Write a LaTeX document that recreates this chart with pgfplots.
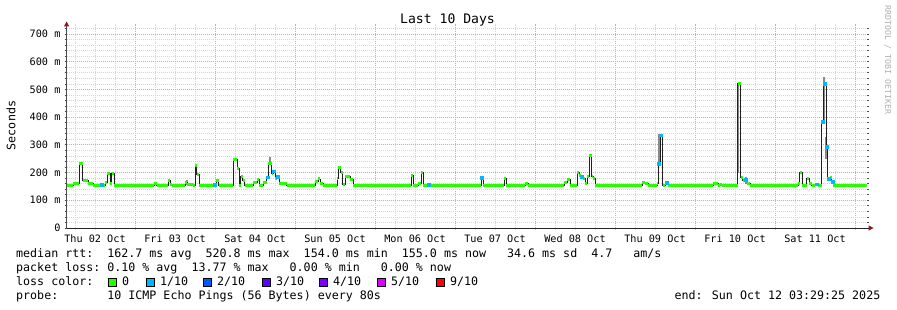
\documentclass[border=0pt]{standalone}
\usepackage{pgfplots}
\pgfplotsset{compat=1.18}
\usepackage{pgfplotstable}
\usepackage{fontspec}
\setmainfont{DejaVu Sans Mono}
\definecolor{lc0}{HTML}{26FF00}
\definecolor{lc1}{HTML}{00B8FF}
\definecolor{lc2}{HTML}{0059FF}
\definecolor{lc3}{HTML}{5E00FF}
\definecolor{lc4}{HTML}{7E00FF}
\definecolor{lc5}{HTML}{DD00FF}
\definecolor{lc9}{HTML}{FF0000}
\definecolor{mgrid}{HTML}{F29C9C}
\definecolor{grd}{HTML}{D6D6D6}
\definecolor{arrowc}{HTML}{8B1A1A}
\definecolor{medline}{HTML}{202020}
\definecolor{smoke}{HTML}{8A8A8A}
\definecolor{wm}{HTML}{B0B0B0}
% median rtt (ms) vs hours since Thu 02 Oct 00:00
\pgfplotstableread{
h v
3.49 155
5.4 159
7.3 233
8.3 170
10.0 162
11.4 155
15.0 165
15.7 197
16.5 161
17.0 197
17.8 155
29.7 161
30.5 155
34.0 170
34.5 158
35.0 155
39.0 163
39.6 158
41.4 155
42.0 227
42.5 194
43.2 155
48.3 171
49.1 155
53.5 248
54.7 214
55.3 155
55.7 187
56.3 170
56.9 155
59.4 165
60.6 175
61.2 155
62.4 163
63.5 183
64.0 233
65.0 197
65.5 205
66.0 180
66.7 185
67.3 161
69.5 155
78.0 167
78.9 177
79.5 161
80.4 155
84.6 178
85.0 218
85.7 201
86.3 158
87.0 185
88.5 174
89.4 155
106.8 191
107.4 155
108.9 161
109.8 200
110.4 155
127.8 182
128.4 155
134.7 180
135.3 155
141.0 161
141.9 155
152.7 164
153.6 174
154.5 155
156.6 200
157.2 191
157.9 186
158.5 178
159.0 161
159.6 185
160.3 260
161.0 185
161.5 180
162.0 155
176.1 164
177.0 161
177.9 155
180.6 161
181.0 233
181.5 335
182.3 155
183.0 164
183.9 155
197.4 161
198.9 155
199.5 158
200.1 155
204.8 522
205.7 183
206.3 173
207.0 175
207.7 161
208.5 155
223.0 161
223.4 200
224.1 155
225.5 179
226.3 161
227.0 155
228.0 158
229.0 155
230.0 384
230.5 520
231.3 293
231.7 179
232.5 183
233.0 168
233.5 155
243.49 155
}\median
% samples with 1/10 loss
\pgfplotstableread{
h v
14.0 155
48.0 155
63.7 183
65.7 205
66.9 185
112.2 155
128.1 182
158.1 186
181.2 233
181.8 335
183.4 164
207.3 175
228.4 158
230.2 384
230.8 520
231.5 293
232.0 179
233.2 168
}\lossone
% smoke (ping spread), vertical extents
\pgfplotstableread{
h v
39.5 155
39.5 172
39.5 nan
64.5 233
64.5 256
64.5 nan
160.6 255
160.6 268
160.6 nan
181.3 228
181.3 340
181.3 nan
183.4 155
183.4 170
183.4 nan
205.0 200
205.0 515
205.0 nan
207.3 160
207.3 183
207.3 nan
230.6 380
230.6 546
230.6 nan
231.2 250
231.2 330
}\smokedata
\begin{document}
\begin{tikzpicture}[x=1pt,y=1pt]
\useasboundingbox (0pt,0pt) rectangle (897pt,310pt);
\begin{axis}[
  at={(66.6pt,82pt)}, anchor=south west,
  scale only axis, width=800pt, height=202pt,
  xmin=3.49, xmax=243.49, ymin=0, ymax=729,
  axis line style={draw=none},
  xtick={24,48,...,240}, xticklabels={},
  minor xtick={6,12,...,240},
  ytick={0,100,...,700},
  yticklabels={0,100 m,200 m,300 m,400 m,500 m,600 m,700 m},
  minor ytick={20,40,...,720},
  grid=both,
  major grid style={mgrid, dash pattern=on 1pt off 1pt, line width=0.8pt},
  minor grid style={grd, dash pattern=on 1pt off 1pt, line width=0.8pt},
  tick align=outside,
  major tick length=2pt, minor tick length=2pt,
  major tick style={mgrid, line width=0.8pt},
  minor tick style={grd, line width=0.8pt},
  every major y tick/.append style={black!70},
  every minor y tick/.append style={black!70},
  tick label style={font=\fontsize{10.2}{12}\selectfont, inner sep=0pt},
  yticklabel style={anchor=base east, xshift=-4pt, yshift=-3.6pt},
  extra x ticks={12,36,...,228},
  extra x tick labels={Thu 02 Oct,Fri 03 Oct,Sat 04 Oct,Sun 05 Oct,Mon 06 Oct,Tue 07 Oct,Wed 08 Oct,Thu 09 Oct,Fri 10 Oct,Sat 11 Oct},
  extra x tick style={grid=none, major tick length=0pt,
    xticklabel style={anchor=base, yshift=-14.5pt}},
  unbounded coords=jump,
]
\addplot[smoke, line width=2.2pt] table[x=h,y=v]{\smokedata};
\addplot[medline, line width=0.9pt, const plot mark left] table[x=h,y=v]{\median};
\addplot[lc0, line width=3pt, jump mark left] table[x=h,y=v]{\median};
\addplot[only marks, mark=square*, mark size=1.4pt, lc1, mark options={draw=none}] table[x=h,y=v]{\lossone};
\end{axis}
% axes
\draw[line width=0.8pt, black!85] (66.6pt,82pt) -- (869pt,82pt);
\fill[arrowc] (873.5pt,82pt) -- (868.5pt,79.3pt) -- (868.5pt,84.7pt) -- cycle;
\draw[line width=0.8pt, black!70] (66.6pt,82pt) -- (66.6pt,285pt);
\fill[arrowc] (66.6pt,288.5pt) -- (63.9pt,283.5pt) -- (69.3pt,283.5pt) -- cycle;
% title and labels
\node[anchor=base, inner sep=0pt, font=\fontsize{13.1}{15}\selectfont] at (447.5pt,286pt) {Last 10 Days};
\node[rotate=90, anchor=base, inner sep=0pt, font=\fontsize{11.65}{14}\selectfont] at (15.5pt,184.5pt) {Seconds};
\node[rotate=-90, anchor=base, inner sep=0pt, text=wm, font=\fontsize{8.3}{10}\selectfont] at (885pt,250pt) {RRDTOOL / TOBI OETIKER};
% legend
\begin{scope}[every node/.style={anchor=base west, inner sep=0pt, font=\fontsize{11.65}{14}\selectfont}]
\node at (16pt,52pt) {median rtt:~~162.7 ms avg~~520.8 ms max~~154.0 ms min~~155.0 ms now~~~34.6 ms sd~~4.7~~~am/s};
\node at (16pt,38pt) {packet loss:~0.10 \% avg~~13.77 \% max~~~0.00 \% min~~~0.00 \% now};
\node at (16pt,24pt) {loss color:};
\node at (16pt,10pt) {probe:~~~~~~~10 ICMP Echo Pings (56 Bytes) every 80s};
\node[anchor=base east] at (880.5pt,10pt) {end: Sun Oct 12 03:29:25 2025};
\foreach \xx/\cc/\tt in {108/lc0/0, 146/lc1/1\slash10, 203/lc2/2\slash10, 262/lc3/3\slash10, 319/lc4/4\slash10, 377/lc5/5\slash10, 436/lc9/9\slash10} {
  \filldraw[fill=\cc, draw=black, line width=0.8pt] (\xx pt,23.5pt) rectangle ++(8pt,8pt);
  \node at (\xx pt+14pt,24pt) {\tt};
}
\end{scope}
\end{tikzpicture}
\end{document}
